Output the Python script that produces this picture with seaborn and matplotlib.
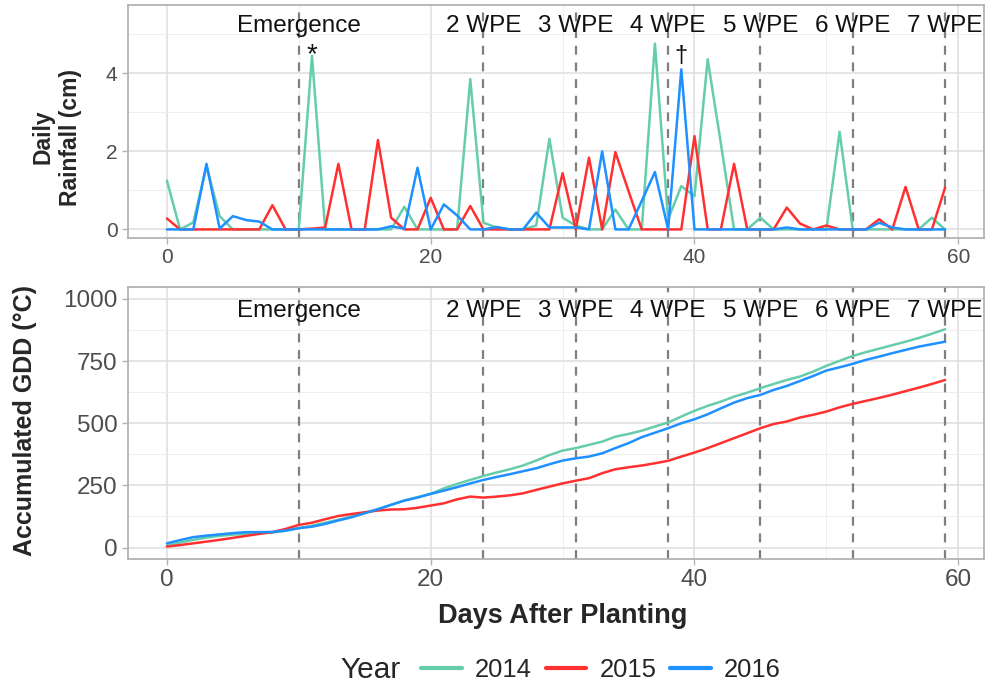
import numpy as np
import pandas as pd
import matplotlib
matplotlib.use("Agg")
import matplotlib.pyplot as plt
import seaborn as sns
from matplotlib.lines import Line2D
from matplotlib.ticker import MultipleLocator

# ---------------- data ----------------
days = list(range(60))
years = ["2014", "2015", "2016"]

rain_2014 = [1.25, 0, 0.18, 1.62, 0.34, 0, 0, 0, 0, 0,
             0, 4.45, 0, 0, 0, 0, 0, 0, 0.58, 0,
             0, 0, 0, 3.85, 0.17, 0.05, 0, 0, 0.1, 2.32,
             0.3, 0.1, 0, 0, 0.51, 0, 0, 4.76, 0.26, 1.11,
             0.85, 4.36, 2.2, 0, 0, 0.3, 0, 0, 0, 0,
             0, 2.5, 0, 0, 0, 0, 0, 0, 0.3, 0]
rain_2015 = [0.28, 0, 0, 0, 0, 0, 0, 0, 0.62, 0,
             0, 0.02, 0.05, 1.68, 0, 0, 2.29, 0.3, 0, 0,
             0.81, 0, 0, 0.6, 0, 0, 0, 0, 0, 0,
             1.44, 0, 1.84, 0, 1.98, 0.98, 0, 0, 0, 0,
             2.39, 0, 0, 1.68, 0, 0, 0, 0.56, 0.15, 0,
             0.1, 0, 0, 0, 0.26, 0, 1.09, 0, 0, 1.07]
rain_2016 = [0, 0, 0, 1.68, 0.02, 0.34, 0.24, 0.2, 0, 0,
             0, 0, 0, 0, 0, 0, 0, 0.08, 0.02, 1.58,
             0, 0.64, 0.36, 0, 0, 0.06, 0, 0, 0.43, 0.05,
             0.05, 0.05, 0, 2.0, 0, 0, 0.73, 1.47, 0, 4.1,
             0, 0, 0, 0, 0, 0, 0, 0.05, 0, 0,
             0, 0, 0, 0, 0.17, 0.05, 0, 0, 0, 0]

gdd_2014 = [8, 20, 31, 40, 47, 52, 55, 58, 60, 68,
            78, 88, 100, 112, 125, 140, 155, 172, 189, 203,
            216, 238, 256, 272, 288, 302, 315, 330, 350, 372,
            390, 400, 413, 426, 446, 457, 470, 487, 503, 527,
            550, 570, 587, 607, 623, 641, 658, 674, 688, 708,
            731, 751, 771, 786, 800, 814, 828, 843, 860, 878]
gdd_2015 = [4, 10, 17, 24, 31, 39, 47, 55, 62, 75,
            91, 100, 114, 127, 135, 142, 149, 153, 154, 160,
            169, 178, 194, 205, 201, 205, 210, 218, 232, 245,
            258, 269, 279, 299, 315, 323, 330, 339, 349, 366,
            382, 400, 420, 440, 460, 480, 497, 507, 523, 534,
            547, 564, 578, 590, 602, 615, 629, 643, 658, 674]
gdd_2016 = [17, 30, 42, 48, 53, 58, 62, 62, 63, 68,
            78, 84, 95, 109, 122, 138, 154, 172, 189, 201,
            216, 229, 243, 258, 272, 284, 295, 307, 319, 335,
            350, 359, 366, 379, 400, 420, 444, 462, 480, 500,
            516, 536, 560, 583, 601, 614, 634, 650, 670, 690,
            712, 725, 739, 755, 768, 782, 795, 808, 818, 828]

stage_days = [10, 24, 31, 38, 45, 52, 59]
stage_labels = ["Emergence", "2 WPE", "3 WPE", "4 WPE", "5 WPE", "6 WPE", "7 WPE"]

palette = {"2014": "#66CDAA", "2015": "#FF3030", "2016": "#1E90FF"}

rain = {"2014": rain_2014, "2015": rain_2015, "2016": rain_2016}
gdd = {"2014": gdd_2014, "2015": gdd_2015, "2016": gdd_2016}
df = pd.concat([
    pd.DataFrame({"day": days, "Year": y, "rain": rain[y], "gdd": gdd[y]})
    for y in years
], ignore_index=True)

# ---------------- style ----------------
sns.set_theme(style="white")
plt.rcParams["font.family"] = ["Liberation Sans", "DejaVu Sans"]

BORDER = "#B3B3B3"
GRID = "#DEDEDE"
TICKTXT = "#4D4D4D"

fig = plt.figure(figsize=(9.98, 6.88), dpi=100)
W, H = 998, 688


def px_axes(l, t, r, b):
    return fig.add_axes([l / W, 1 - b / H, (r - l) / W, (b - t) / H])


ax1 = px_axes(128, 5, 984, 238)
ax2 = px_axes(128, 287, 984, 559)


def style_axes(ax, ymaj, ymin, ticksize):
    ax.set_facecolor("white")
    ax.xaxis.set_major_locator(MultipleLocator(20))
    ax.xaxis.set_minor_locator(MultipleLocator(10))
    ax.yaxis.set_major_locator(MultipleLocator(ymaj))
    ax.yaxis.set_minor_locator(MultipleLocator(ymin))
    ax.grid(True, which="major", color=GRID, lw=1.1, zorder=0)
    ax.grid(True, which="minor", color="#EBEBEB", lw=0.6, zorder=0)
    ax.set_axisbelow(True)
    for s in ax.spines.values():
        s.set_color(BORDER)
        s.set_linewidth(1.3)
    ax.tick_params(which="major", length=4.5, width=1.0, color=BORDER,
                   labelsize=ticksize, labelcolor=TICKTXT, pad=3,
                   bottom=True, left=True)
    ax.tick_params(which="minor", length=0)
    ax.set_xlabel("")
    ax.set_ylabel("")


for ax in (ax1, ax2):
    for d in stage_days:
        ax.axvline(d, color="#7F7F7F", lw=1.6, ls=(0, (4, 3.5)), zorder=1.5)

sns.lineplot(data=df, x="day", y="rain", hue="Year", hue_order=years,
             palette=palette, lw=1.8, ax=ax1, legend=False, zorder=2)
sns.lineplot(data=df, x="day", y="gdd", hue="Year", hue_order=years,
             palette=palette, lw=1.8, ax=ax2, legend=False, zorder=2)

style_axes(ax1, 2, 1, 15)
style_axes(ax2, 250, 125, 17.5)
ax1.set_xlim(-2.95, 61.95)
ax2.set_xlim(-2.95, 61.95)
ax1.set_ylim(-0.22, 5.75)
ax2.set_ylim(-46, 1048)
ax1.set_yticks([0, 2, 4])
ax2.set_yticks([0, 250, 500, 750, 1000])

for d, lab in zip(stage_days, stage_labels):
    ax1.text(d, 5.2, lab, ha="center", va="center", fontsize=17.5,
             color="#111111", zorder=3)
    ax2.text(d, 950, lab, ha="center", va="center", fontsize=17.5,
             color="#111111", zorder=3)

ax1.text(11, 4.28, "*", ha="center", va="baseline", fontsize=20, color="#111111")
ax1.text(39, 4.28, "\u2020", ha="center", va="baseline", fontsize=17, color="#111111")

# axis titles
fig.text(57 / W, 1 - 137 / H, "Daily\nRainfall (cm)", rotation=90,
         ha="center", va="center", multialignment="center",
         fontsize=16.5, fontweight="bold", linespacing=1.25)
fig.text(25 / W, 1 - 420 / H, "Accumulated GDD (\u00b0C)", rotation=90,
         ha="center", va="center", fontsize=18, fontweight="bold")
fig.text(563 / W, 1 - 616 / H, "Days After Planting", ha="center", va="center",
         fontsize=19.5, fontweight="bold")

# legend
fig.text(340 / W, 1 - 670 / H, "Year", ha="left", va="center", fontsize=21.5)
handles = [Line2D([], [], color=palette[y], lw=3) for y in years]
fig.legend(handles, years, loc="center left",
           bbox_to_anchor=(421 / W, 1 - 670 / H), ncol=3, frameon=False,
           fontsize=18.4, handlelength=1.6, handletextpad=0.5,
           columnspacing=0.55, borderpad=0, borderaxespad=0)

fig.savefig("out.png", dpi=100)
